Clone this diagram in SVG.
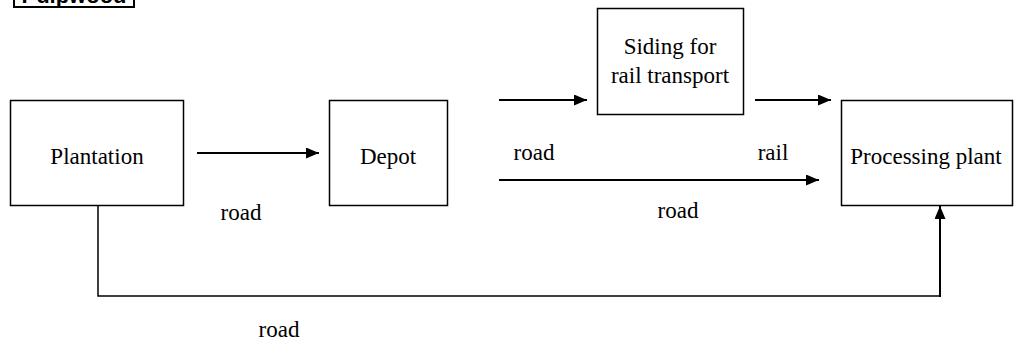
<svg xmlns="http://www.w3.org/2000/svg" width="1015" height="343" viewBox="0 0 1015 343">
<style>
.box{fill:#fff;stroke:#000;stroke-width:1.5}
.ln{fill:none;stroke:#000;stroke-width:2}
</style>
<defs>
<marker id="ah" viewBox="0 0 13 11" refX="13" refY="5.5" markerWidth="13" markerHeight="11" markerUnits="userSpaceOnUse" orient="auto">
<path d="M0,0 L13,5.5 L0,11 Z" fill="#000"/>
</marker>
</defs>
<rect width="1015" height="343" fill="#fff"/>
<g id="title">
<rect x="14" y="-20" width="120" height="27" fill="#fff" stroke="#000" stroke-width="2"/>
<text x="74" y="3" font-family="Liberation Sans, Arial, sans-serif" font-weight="bold" font-size="22" text-anchor="middle">Pulpwood</text>
</g>
<g font-family="Liberation Serif, Times New Roman, DejaVu Serif, serif" font-size="23" text-anchor="middle" fill="#000">
<g id="plantation">
<rect class="box" x="10.5" y="100.5" width="173" height="105"/>
<text x="97" y="164">Plantation</text>
</g>
<g id="depot">
<rect class="box" x="329.5" y="100.5" width="118" height="105"/>
<text x="388" y="164">Depot</text>
</g>
<g id="siding">
<rect class="box" x="597.5" y="8.5" width="146" height="106"/>
<text x="670" y="54">Siding for</text>
<text x="670" y="83">rail transport</text>
</g>
<g id="processing">
<rect class="box" x="841.5" y="100.5" width="171" height="105"/>
<text x="926" y="164">Processing plant</text>
</g>
<g id="connectors">
<line class="ln" x1="197" y1="153" x2="319" y2="153" marker-end="url(#ah)"/>
<line class="ln" x1="499" y1="100" x2="587" y2="100" marker-end="url(#ah)"/>
<line class="ln" x1="755" y1="100" x2="831" y2="100" marker-end="url(#ah)"/>
<line class="ln" x1="499" y1="180" x2="819" y2="180" marker-end="url(#ah)"/>
<polyline fill="none" stroke="#000" stroke-width="1.5" points="98,206 98,296 940,296"/>
<line class="ln" x1="940" y1="297" x2="940" y2="206" stroke-width="2.5" marker-end="url(#ah)"/>
</g>
<g id="labels">
<text x="241" y="220">road</text>
<text x="534" y="160">road</text>
<text x="773" y="160">rail</text>
<text x="678" y="218">road</text>
<text x="279" y="337">road</text>
</g>
</g>
</svg>
